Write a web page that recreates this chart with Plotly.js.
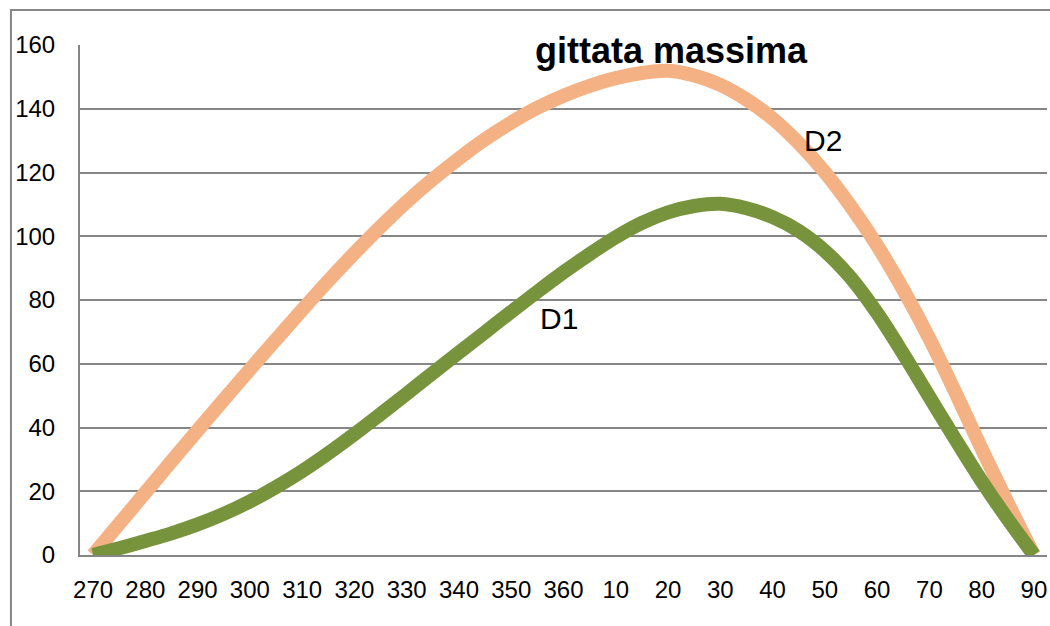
<!DOCTYPE html>
<html>
<head>
<meta charset="utf-8">
<script src="https://cdn.plot.ly/plotly-3.0.1.min.js"></script>
<style>
  html, body { margin: 0; padding: 0; background: #ffffff; }
  #chart { width: 1050px; height: 626px; }
</style>
</head>
<body>
<div id="chart"></div>
<script>
// Angle categories (degrees), 5° steps
const angles = ["270","275","280","285","290","295","300","305","310","315","320","325","330","335","340","345","350","355","360",
                "5","10","15","20","25","30","35","40","45","50","55","60","65","70","75","80","85","90"];
// Tick labels shown on the axis
const tickLabels = ["270","280","290","300","310","320","330","340","350","360","10","20","30","40","50","60","70","80","90"];

// Series values
const D1 = [0, 2.1, 4.4, 6.8, 9.6, 12.9, 16.8, 21.3, 26.3, 31.9, 37.9, 44.2, 50.6, 57.1, 63.5, 69.9, 76.3, 82.6, 88.7,
            94.4, 99.7, 104.2, 107.5, 109.5, 110.2, 108.8, 106.0, 101.7, 95.4, 86.9, 75.9, 63.1, 49.6, 36.2, 23.2, 11.2, 0];
const D2 = [0, 9.8, 19.6, 29.4, 39.1, 48.7, 58.2, 67.6, 76.9, 86.0, 94.7, 103.0, 110.8, 117.9, 124.4, 130.4, 135.7, 140.3, 144.1,
            147.2, 149.6, 151.2, 151.9, 150.4, 147.5, 142.9, 136.9, 129.2, 120.1, 109.3, 97.1, 83.2, 67.9, 50.9, 33.3, 16.3, 0];

const seriesNames = ["D1", "D2"];
const chartTitle = "gittata massima";

const gridCol = "#868686";
const fontFam = "Liberation Sans, Arial, sans-serif";

const traces = [
  { x: angles, y: D2, type: "scatter", mode: "lines", name: seriesNames[1],
    line: { color: "#F4B183", width: 14, shape: "spline", smoothing: 1 }, hoverinfo: "skip" },
  { x: angles, y: D1, type: "scatter", mode: "lines", name: seriesNames[0],
    line: { color: "#77933C", width: 14, shape: "spline", smoothing: 1 }, hoverinfo: "skip" }
];

const layout = {
  width: 1050, height: 626,
  margin: { l: 80, r: 3, t: 45, b: 71, pad: 0 },
  paper_bgcolor: "#ffffff", plot_bgcolor: "#ffffff",
  showlegend: false,
  font: { family: fontFam, color: "#000000", size: 24 },
  xaxis: {
    type: "category",
    categoryorder: "array", categoryarray: angles,
    range: [-0.5, angles.length - 0.5],
    tickmode: "array", tickvals: tickLabels, ticktext: tickLabels,
    showgrid: false, zeroline: false,
    showline: true, linecolor: gridCol, linewidth: 2,
    ticks: "", ticklabelstandoff: 12,
    tickfont: { family: fontFam, size: 24, color: "#000" },
    fixedrange: true
  },
  yaxis: {
    range: [0, 160], dtick: 20, tick0: 0,
    showgrid: true, gridcolor: gridCol, gridwidth: 2,
    zeroline: false,
    showline: true, linecolor: gridCol, linewidth: 2,
    ticks: "", ticklabelstandoff: 18,
    tickfont: { family: fontFam, size: 24, color: "#000" },
    fixedrange: true
  },
  annotations: [
    { text: "<b>" + chartTitle + "</b>", xref: "paper", yref: "paper", x: 0.612, y: 0.990,
      xanchor: "center", yanchor: "middle", showarrow: false,
      font: { family: fontFam, size: 36, color: "#000" } },
    { text: seriesNames[0], xref: "paper", yref: "paper", x: 0.495, y: 0.4635,
      xanchor: "center", yanchor: "middle", showarrow: false,
      font: { family: fontFam, size: 30, color: "#000" } },
    { text: seriesNames[1], xref: "paper", yref: "paper", x: 0.768, y: 0.8125,
      xanchor: "center", yanchor: "middle", showarrow: false,
      font: { family: fontFam, size: 30, color: "#000" } }
  ],
  shapes: [
    { type: "rect", xref: "paper", yref: "paper", x0: -0.0714, x1: 1.2, y0: -0.3, y1: 1.0686,
      line: { color: gridCol, width: 2 }, fillcolor: "rgba(0,0,0,0)", layer: "below" }
  ]
};

Plotly.newPlot("chart", traces, layout, { staticPlot: true, displayModeBar: false });
</script>
</body>
</html>
